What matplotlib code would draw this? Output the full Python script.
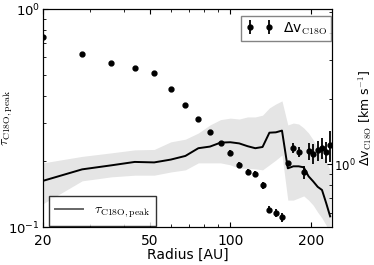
import matplotlib
matplotlib.use("Agg")
import matplotlib.pyplot as plt
from matplotlib.ticker import FixedLocator, FixedFormatter, LogLocator, NullFormatter

# =========================
# DATA
# =========================
radius = [20, 28, 36, 44, 52, 60, 68, 76, 84, 92, 100, 108, 116, 124,
          132, 140, 148, 156, 164, 172, 180, 188, 196, 204, 212, 220, 228, 236]

# optical depth (left axis): median line and band
tau_peak = [0.163, 0.184, 0.192, 0.199, 0.198, 0.204, 0.212, 0.230, 0.234, 0.244,
            0.245, 0.242, 0.235, 0.230, 0.233, 0.271, 0.272, 0.277, 0.186, 0.190,
            0.190, 0.188, 0.171, 0.162, 0.153, 0.148, 0.129, 0.112]
tau_hi = [0.197, 0.211, 0.219, 0.226, 0.227, 0.246, 0.253, 0.270, 0.294, 0.311,
          0.316, 0.313, 0.320, 0.320, 0.326, 0.352, 0.367, 0.379, 0.294, 0.300,
          0.297, 0.285, 0.270, 0.251, 0.230, 0.214, 0.199, 0.183]
tau_lo = [0.128, 0.163, 0.170, 0.173, 0.173, 0.179, 0.183, 0.197, 0.197, 0.197,
          0.193, 0.186, 0.186, 0.185, 0.183, 0.193, 0.203, 0.214, 0.133, 0.133,
          0.136, 0.139, 0.133, 0.126, 0.117, 0.110, 0.102, 0.092]

# line width (right axis)
dv = [3.83, 3.19, 2.90, 2.75, 2.62, 2.21, 1.87, 1.61, 1.40, 1.25, 1.13, 0.99,
      0.92, 0.90, 0.80, 0.62, 0.60, 0.57, 1.01, 1.19, 1.14, 0.92, 1.15, 1.12,
      1.16, 1.19, 1.14, 1.22]
dv_err = [0.08, 0.06, 0.05, 0.05, 0.05, 0.05, 0.04, 0.04, 0.035, 0.03, 0.03, 0.03,
          0.03, 0.03, 0.03, 0.025, 0.025, 0.025, 0.03, 0.06, 0.06, 0.065, 0.105,
          0.12, 0.12, 0.13, 0.13, 0.20]

x_ticks = [20, 50, 100, 200]
x_ticklabels = ["20", "50", "100", "200"]

# =========================
# PLOT
# =========================
plt.rcParams["font.family"] = "DejaVu Sans"
plt.rcParams["font.size"] = 10
plt.rcParams["xtick.direction"] = "in"
plt.rcParams["ytick.direction"] = "in"

fig = plt.figure(figsize=(3.74, 2.65), dpi=100)
ax = fig.add_axes([0.115, 0.143, 0.773, 0.823])

ax.fill_between(radius, tau_lo, tau_hi, color="#e5e5e5", lw=0)
ax.plot(radius, tau_peak, color="black", lw=1.4,
        label=r"$\tau_{\rm C18O,peak}$")

ax.set_xscale("log")
ax.set_yscale("log")
ax.set_xlim(20, 240)
ax.set_ylim(0.1, 1.0)
ax.xaxis.set_major_locator(FixedLocator(x_ticks))
ax.xaxis.set_major_formatter(FixedFormatter(x_ticklabels))
ax.xaxis.set_minor_locator(LogLocator(subs=range(1, 10)))
ax.xaxis.set_minor_formatter(NullFormatter())
ax.yaxis.set_minor_formatter(NullFormatter())
ax.xaxis.set_ticks_position("both")
ax.tick_params(which="major", length=3.5)
ax.tick_params(which="minor", length=2.5)
ax.tick_params(axis="x", pad=5)
ax.tick_params(axis="y", labelsize=9.5, pad=2)
ax.set_xlabel("Radius [AU]", labelpad=0)
ax.set_ylabel(r"$\tau_{\rm C18O,peak}$", math_fontfamily="cm")
ax.yaxis.set_label_coords(-0.098, 0.5)

leg1 = ax.legend(loc="lower left", bbox_to_anchor=(0.02, 0.004),
                 borderaxespad=0, fancybox=False, edgecolor="black",
                 handlelength=2.0, borderpad=0.45, fontsize=10)
leg1.get_frame().set_linewidth(1.0)
leg1.legend_handles[0].set_color("0.4")
for t in leg1.get_texts():
    t.set_math_fontfamily("cm")

ax2 = ax.twinx()
ax2.errorbar(radius, dv, yerr=dv_err, fmt="o", color="black", ms=3.5,
             elinewidth=1.3, capsize=0, label=r"Δv$_{\rm C18O}$")
ax2.set_yscale("log")
ax2.set_ylim(0.515, 5.15)
ax2.yaxis.set_minor_formatter(NullFormatter())
ax2.tick_params(which="major", length=3.5)
ax2.tick_params(which="minor", length=2.5)
ax2.tick_params(axis="y", labelsize=8.5, pad=1.5)
ax2.set_ylabel(r"Δv$_{\rm C18O}$ [km s$^{-1}$]", math_fontfamily="cm",
               fontsize=9)
ax2.yaxis.set_label_coords(1.087, 0.5)

leg2 = ax2.legend(loc="upper right", bbox_to_anchor=(0.997, 0.968),
                  borderaxespad=0, numpoints=2, fancybox=False,
                  edgecolor="0.4", borderpad=0.3, handletextpad=0.7, fontsize=10)
for t in leg2.get_texts():
    t.set_math_fontfamily("cm")

fig.savefig("out.png", dpi=100)
